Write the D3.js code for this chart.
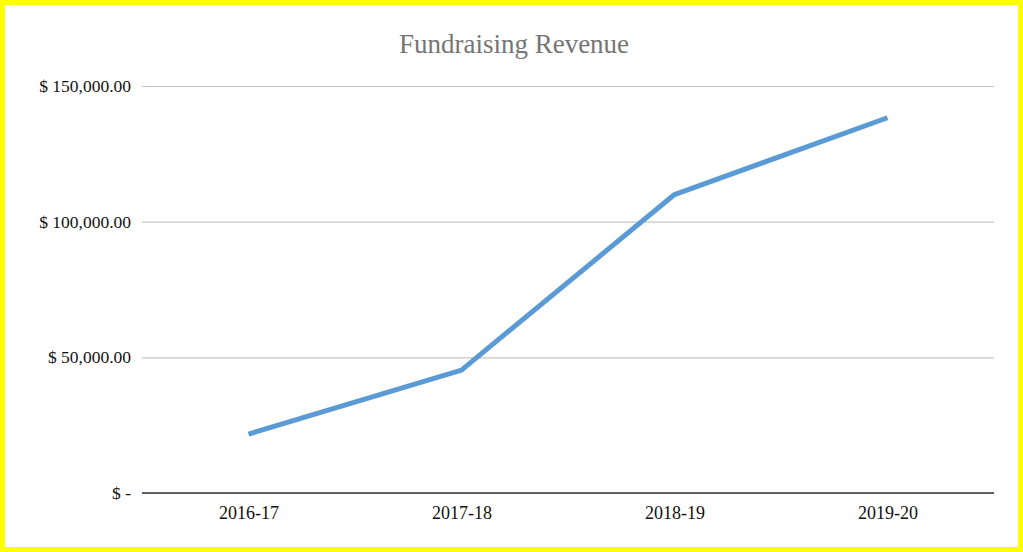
<!DOCTYPE html>
<html>
<head>
<meta charset="utf-8">
<script src="https://cdn.jsdelivr.net/npm/d3@7"></script>
<style>
  html, body { margin: 0; padding: 0; background: #fff; }
  svg { display: block; }
</style>
</head>
<body>
<svg id="chart" width="1023" height="552"></svg>
<script>
// Fiscal years and fundraising revenue (USD)
const years = ["2016-17", "2017-18", "2018-19", "2019-20"];
const revenue = [21700, 45300, 110000, 138300];
const yTicks = [0, 50000, 100000, 150000];
const chartTitle = "Fundraising Revenue";

const W = 1023, H = 552;
const margin = { left: 142, right: 29, top: 86, bottom: 59 };
const svg = d3.select("#chart");

svg.append("rect")
  .attr("x", 0).attr("y", 0).attr("width", W).attr("height", H)
  .attr("fill", "#fff");

const x = d3.scalePoint()
  .domain(years)
  .range([margin.left, W - margin.right])
  .padding(0.5);

const y = d3.scaleLinear()
  .domain([0, 150000])
  .range([H - margin.bottom, margin.top]);

const fmtMoney = d => d === 0 ? "$ -" : "$ " + d3.format(",.2f")(d);
const font = "'Liberation Serif', 'Times New Roman', serif";

// horizontal gridlines + y labels
const yAxis = d3.axisLeft(y)
  .tickValues(yTicks)
  .tickFormat(fmtMoney)
  .tickSize(-(W - margin.left - margin.right))
  .tickPadding(11);

const gy = svg.append("g")
  .attr("transform", `translate(${margin.left},0)`)
  .call(yAxis);
gy.select(".domain").remove();
gy.selectAll(".tick line")
  .attr("stroke", "#c6c6c6")
  .attr("stroke-width", 1.2);
gy.selectAll(".tick text")
  .attr("fill", "#111")
  .style("font-family", font)
  .style("font-size", "17.5px");

// baseline + category labels
const xAxis = d3.axisBottom(x).tickSize(0).tickPadding(13);
const gx = svg.append("g")
  .attr("transform", `translate(0,${y(0)})`)
  .call(xAxis);
gx.select(".domain")
  .attr("d", `M${margin.left},0H${W - margin.right}`)
  .attr("stroke", "#333")
  .attr("stroke-width", 1.6);
gx.selectAll(".tick text")
  .attr("fill", "#111")
  .style("font-family", font)
  .style("font-size", "18px");

// revenue line
const line = d3.line()
  .x((d, i) => x(years[i]))
  .y(d => y(d));

svg.append("path")
  .datum(revenue)
  .attr("d", line)
  .attr("fill", "none")
  .attr("stroke", "#5b9bd5")
  .attr("stroke-width", 5)
  .attr("stroke-linejoin", "round");

// title
svg.append("text")
  .attr("x", 514)
  .attr("y", 53)
  .attr("text-anchor", "middle")
  .attr("fill", "#757575")
  .style("font-family", font)
  .style("font-size", "27px")
  .text(chartTitle);

// yellow frame
svg.append("rect")
  .attr("x", 2.5).attr("y", 2.5)
  .attr("width", W - 5).attr("height", H - 5)
  .attr("fill", "none")
  .attr("stroke", "#ffff00")
  .attr("stroke-width", 5);
</script>
</body>
</html>
